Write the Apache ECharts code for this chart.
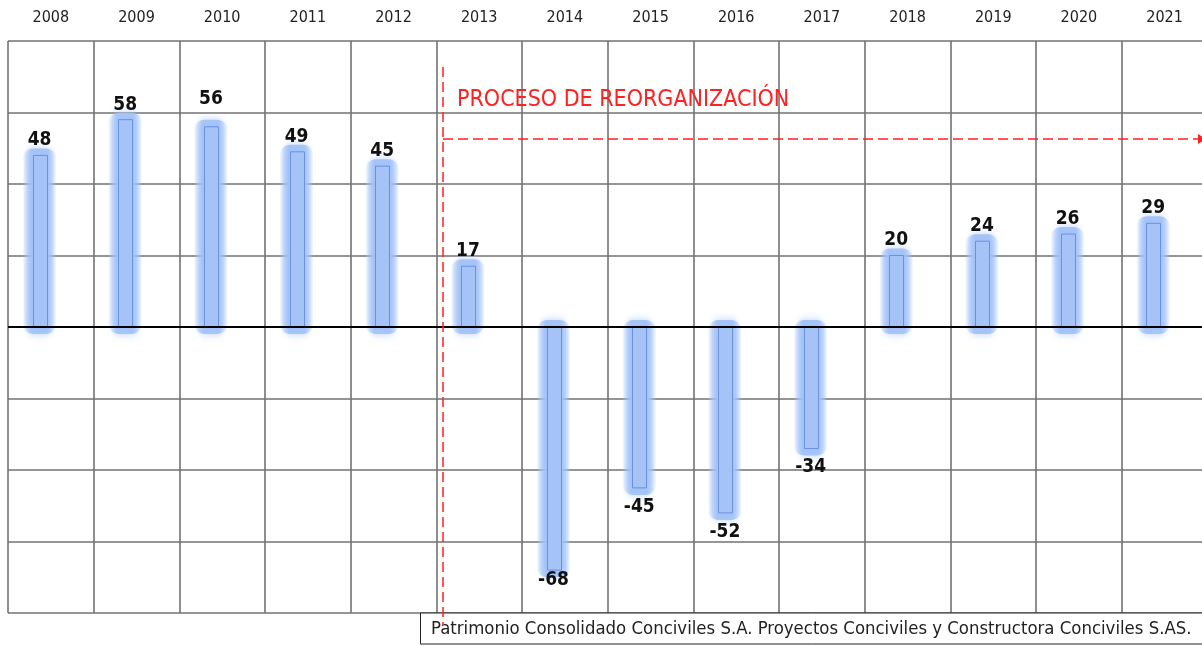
<!DOCTYPE html>
<html>
<head>
<meta charset="utf-8">
<script src="https://cdn.jsdelivr.net/npm/echarts@6/dist/echarts.min.js"></script>
<style>
html,body{margin:0;padding:0;background:#ffffff;}
#chart{width:1202px;height:646px;}
</style>
</head>
<body>
<div id="chart"></div>
<script>
// ---- data ----
const years = ['2008','2009','2010','2011','2012','2013','2014','2015','2016','2017','2018','2019','2020','2021'];
const values = [48, 58, 56, 49, 45, 17, -68, -45, -52, -34, 20, 24, 26, 29];
const yMin = -80;
const yMax = 80;
const yInterval = 20;
const annotationText = 'PROCESO DE REORGANIZACIÓN';
const footerText = 'Patrimonio Consolidado Conciviles S.A. Proyectos Conciviles y Constructora Conciviles S.AS.';

// ---- style ----
const gridColor = '#727272';
const red = '#ff2020';
const barShift = -11.3;      // bars sit left of the column centre
const barHalf = 7;
const glowHalf = 17;
const glowExtend = 7;
const labelGap = {pos: 15, neg: 19};
const labelGapOverride = {2: 28, 6: 10};

const glowFill = {
  type: 'linear', x: 0, y: 0, x2: 1, y2: 0,
  colorStops: [
    {offset: 0, color: 'rgba(160,193,248,0)'},
    {offset: 0.12, color: 'rgba(160,193,248,0.45)'},
    {offset: 0.27, color: 'rgba(160,193,248,0.9)'},
    {offset: 0.73, color: 'rgba(160,193,248,0.9)'},
    {offset: 0.88, color: 'rgba(160,193,248,0.45)'},
    {offset: 1, color: 'rgba(160,193,248,0)'}
  ]
};

const chart = echarts.init(document.getElementById('chart'), null, {renderer: 'canvas'});

function renderBar(params, api) {
  const i = params.dataIndex;
  const xi = api.value(0);
  const v = api.value(1);
  const p0 = api.coord([xi, 0]);
  const p1 = api.coord([xi, v]);
  const cx = p0[0] + barShift;
  const top = Math.min(p0[1], p1[1]);
  const h = Math.abs(p1[1] - p0[1]);
  const neg = v < 0;
  let gap = neg ? labelGap.neg : labelGap.pos;
  if (labelGapOverride[i] !== undefined) gap = labelGapOverride[i];
  const ly = neg ? p1[1] + gap : p1[1] - gap;
  return {
    type: 'group',
    children: [
      {
        type: 'rect',
        shape: {x: cx - glowHalf, y: top - glowExtend, width: glowHalf * 2, height: h + glowExtend * 2, r: 11},
        style: {fill: glowFill, shadowBlur: 8, shadowColor: 'rgba(160,193,248,0.8)'}
      },
      {
        type: 'rect',
        shape: {x: Math.round(cx - barHalf) + 0.5, y: top, width: barHalf * 2, height: h},
        style: {fill: '#a5c3f6', stroke: '#6a91dc', lineWidth: 1}
      },
      {
        type: 'text',
        x: cx, y: ly,
        style: {
          text: String(v),
          fill: '#111',
          font: 'bold 19px "DejaVu Sans Condensed"',
          align: 'center',
          verticalAlign: 'middle'
        }
      }
    ]
  };
}

const option = {
  animation: false,
  backgroundColor: '#ffffff',
  grid: {left: 8, top: 41, width: 1199.4, height: 572, containLabel: false, outerBoundsMode: 'none'},
  xAxis: {
    type: 'category',
    data: years,
    position: 'top',
    boundaryGap: true,
    axisLine: {show: false},
    axisTick: {show: false},
    axisLabel: {
      margin: 15,
      fontSize: 16,
      color: '#222',
      fontFamily: 'DejaVu Sans Condensed'
    },
    splitLine: {show: true, lineStyle: {color: gridColor, width: 1.6}}
  },
  yAxis: {
    type: 'value',
    min: yMin,
    max: yMax,
    interval: yInterval,
    axisLine: {show: false},
    axisTick: {show: false},
    axisLabel: {show: false},
    splitLine: {show: true, lineStyle: {color: gridColor, width: 1.6}}
  },
  series: [
    {
      type: 'custom',
      name: 'Patrimonio',
      data: values.map((v, i) => [i, v]),
      encode: {x: 0, y: 1},
      renderItem: renderBar,
      clip: false,
      z: 2,
      markLine: {
        silent: true,
        symbol: ['none', 'none'],
        label: {show: false},
        lineStyle: {color: '#000', width: 2, type: 'solid'},
        data: [{yAxis: 0}]
      }
    }
  ],
  graphic: [
    {
      type: 'rect',
      z: 10,
      shape: {x: 420.5, y: 613, width: 800, height: 31},
      style: {fill: '#ffffff', stroke: '#222', lineWidth: 1}
    },
    {
      type: 'text',
      z: 11,
      x: 431, y: 629,
      style: {
        text: footerText,
        fill: '#222',
        font: '18.4px "DejaVu Sans Condensed"',
        textVerticalAlign: 'middle'
      }
    },
    {
      type: 'line',
      z: 12,
      shape: {x1: 443, y1: 67, x2: 443, y2: 625},
      style: {stroke: red, lineWidth: 1.5, lineDash: [10, 5]}
    },
    {
      type: 'line',
      z: 12,
      shape: {x1: 443, y1: 139, x2: 1198, y2: 139},
      style: {stroke: red, lineWidth: 1.5, lineDash: [10, 5]}
    },
    {
      type: 'polygon',
      z: 12,
      shape: {points: [[1198, 134], [1206, 139], [1198, 144]]},
      style: {fill: red}
    },
    {
      type: 'text',
      z: 12,
      x: 457, y: 100,
      style: {
        text: annotationText,
        fill: red,
        font: '23px "DejaVu Sans Condensed"',
        textVerticalAlign: 'middle'
      }
    }
  ]
};
chart.setOption(option);
</script>
</body>
</html>
